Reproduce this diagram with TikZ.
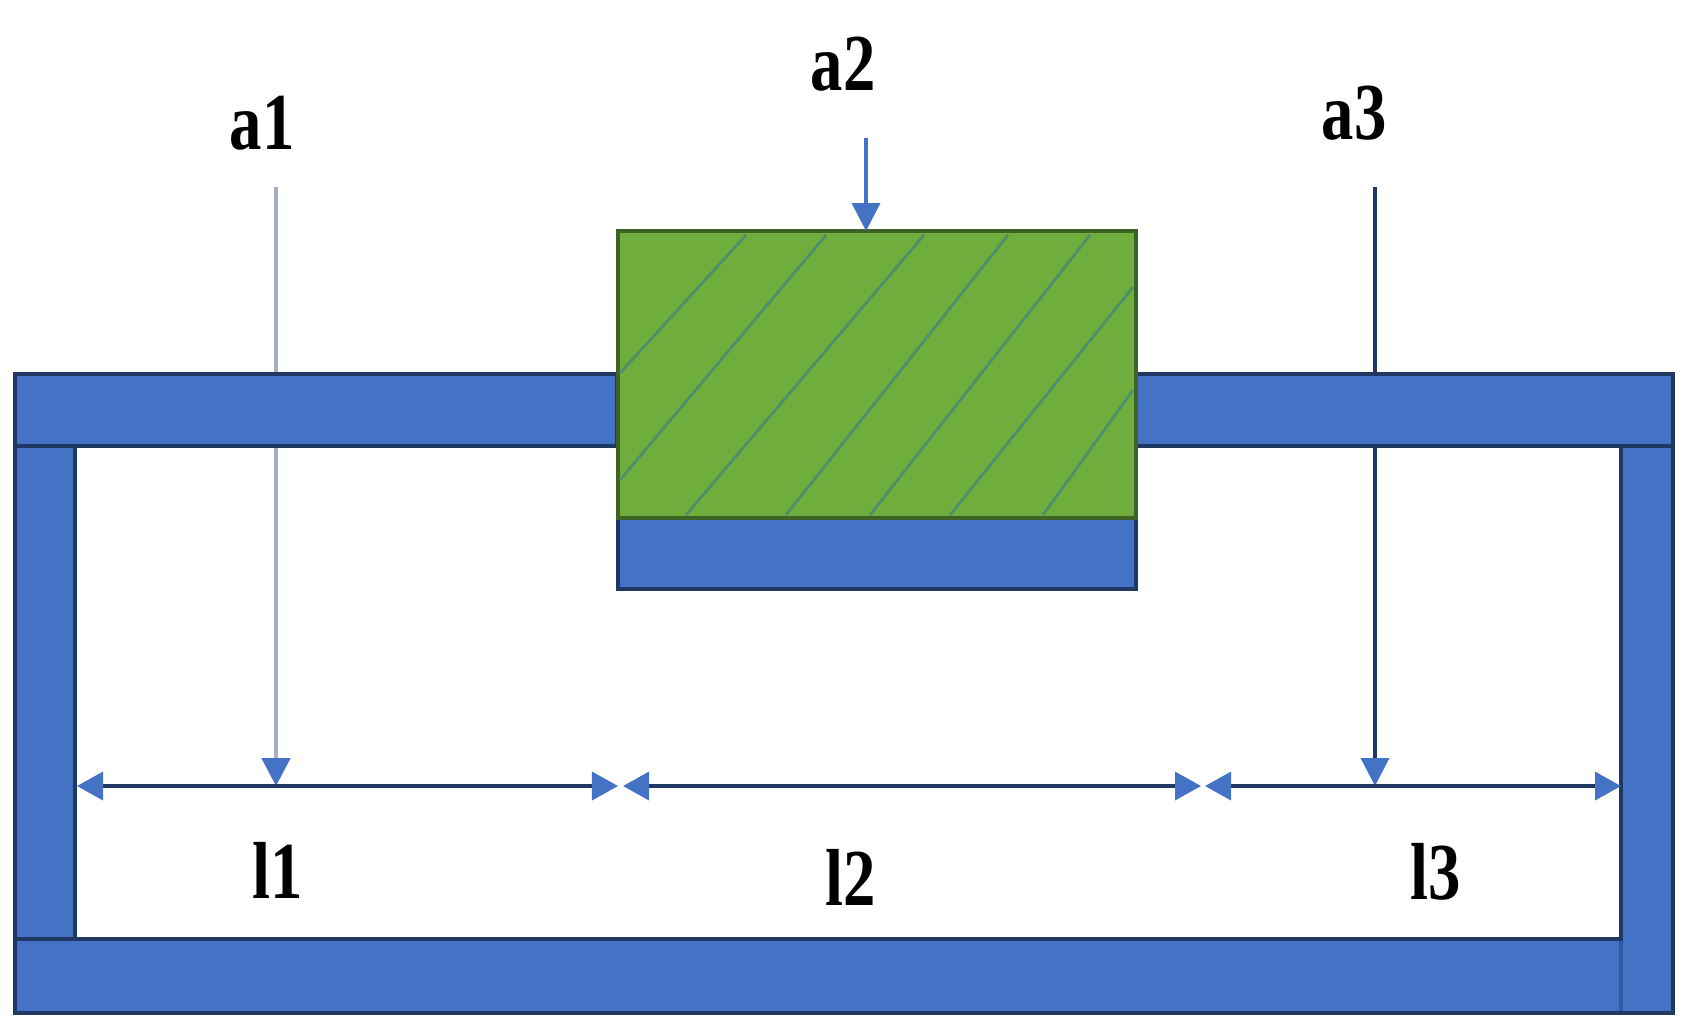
\documentclass[tikz,border=0pt]{standalone}
\usepackage{fontspec}
\setmainfont{Liberation Serif}
\usepackage{tikz}
\usetikzlibrary{arrows.meta}
\definecolor{barblue}{HTML}{4472C4}
\definecolor{barline}{HTML}{1F3864}
\definecolor{seamblue}{HTML}{2F5BA8}
\definecolor{coilgreen}{HTML}{6FAE3C}
\definecolor{coilline}{HTML}{3F6326}
\definecolor{hatchline}{HTML}{4F8F6A}
\tikzset{
  bar/.style={fill=barblue, draw=barline, line width=1.2pt},
  coil/.style={fill=coilgreen, draw=coilline, line width=1.2pt},
  hatch/.style={draw=hatchline, line width=0.8pt},
  tag/.style={font=\fontsize{23}{23}\selectfont\bfseries, xscale=0.8, inner sep=0pt},
  fluxtip/.style={-{Triangle[length=0.28cm, width=0.28cm, color=barblue]}},
  spantip/.style={{Triangle[length=0.26cm, width=0.28cm, color=barblue]}-{Triangle[length=0.26cm, width=0.28cm, color=barblue]}, draw=barline, line width=1pt}
}
\begin{document}
\begin{tikzpicture}[x=0.01cm, y=-0.01cm]
  \useasboundingbox (0,0) rectangle (1689,1026);

  % 端点
  \coordinate (a1top) at (276,187);
  \coordinate (a1end) at (276,786);
  \coordinate (a2top) at (866,138);
  \coordinate (a2end) at (866,231);
  \coordinate (a3top) at (1375,187);
  \coordinate (a3end) at (1375,786);
  \coordinate (l1left) at (77,786);
  \coordinate (l1right) at (618,786);
  \coordinate (l2left) at (623,786);
  \coordinate (l2right) at (1201,786);
  \coordinate (l3left) at (1205,786);
  \coordinate (l3right) at (1621,786);

  % 矢印 a
  \draw[fluxtip, draw=barline!40!white, line width=1.4pt] (a1top) -- (a1end);
  \draw[fluxtip, draw=barline, line width=1pt] (a3top) -- (a3end);

  % 枠
  \draw[bar] (15,446) rectangle (75,939);
  \draw[bar] (1621,446) rectangle (1673,1013);
  \draw[bar] (15,939) rectangle (1621,1013);
  \draw[bar] (15,374) rectangle (617,446);
  \draw[bar] (1136,374) rectangle (1673,446);
  \draw[seamblue, line width=1.2pt] (1621,941) -- (1621,1011);

  % 中央の脚
  \draw[bar] (618,518) rectangle (1136,589);
  \draw[coil] (618,231) rectangle (1136,518);

  % 斜線
  \draw[hatch] (620,373) -- (746,235);
  \draw[hatch] (620,480) -- (826,235);
  \draw[hatch] (686,515) -- (924,235);
  \draw[hatch] (786,515) -- (1008,235);
  \draw[hatch] (870,515) -- (1090,235);
  \draw[hatch] (950,515) -- (1133,287);
  \draw[hatch] (1043,515) -- (1133,390);

  % 矢印 a2
  \draw[fluxtip, draw=barblue, line width=1pt] (a2top) -- (a2end);

  % 寸法 l
  \draw[spantip] (l1left) -- (l1right);
  \draw[spantip] (l2left) -- (l2right);
  \draw[spantip] (l3left) -- (l3right);

  % ラベル
  \node[tag] (a1) at (262,123) {a1};
  \node[tag] (a2) at (843,64) {a2};
  \node[tag] (a3) at (1354,113) {a3};
  \node[tag] (l1) at (278,870) {l1};
  \node[tag] (l2) at (851,877) {l2};
  \node[tag] (l3) at (1436,872) {l3};
\end{tikzpicture}
\end{document}
